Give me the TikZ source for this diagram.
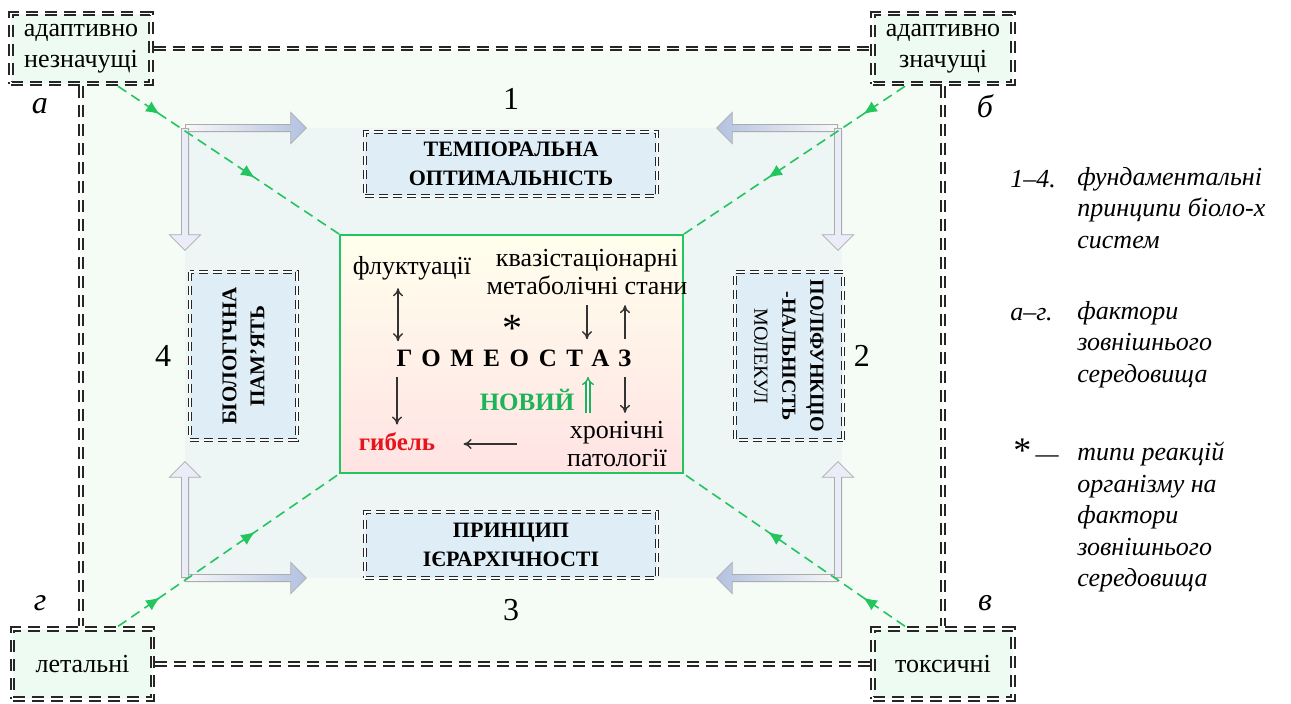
\documentclass[tikz,border=0pt]{standalone}
\usepackage{fontspec}
\setmainfont{Liberation Serif}
\usetikzlibrary{positioning,arrows.meta,shapes.arrows,decorations.markings,backgrounds}
\definecolor{framefill}{HTML}{F5FCF6}
\definecolor{innerfill}{HTML}{EEF5F5}
\definecolor{cornerfill}{HTML}{EEFBF2}
\definecolor{boxfill}{HTML}{DFEEF6}
\definecolor{linkgreen}{HTML}{22C55E}
\definecolor{newgreen}{HTML}{1DB35A}
\definecolor{deathred}{HTML}{E8141C}
\definecolor{headblue}{HTML}{B3C2E2}
\definecolor{headpale}{HTML}{EAECF7}
\tikzset{
    dd-line/.style = {draw=black!85, line width=2.7pt, dash pattern=on 6pt off 3.5pt,
        postaction={draw=white, line width=0.9pt, dash pattern=on 6pt off 3.5pt}},
    corner-box/.style = {dd-line, fill=cornerfill, inner sep=2pt, align=center, minimum width=70pt, minimum height=35pt, font=\fontsize{13}{15.5}\selectfont},
    principle-box/.style = {draw=black!85, line width=2.4pt, dash pattern=on 4.5pt off 2.5pt,
        postaction={draw=white, line width=0.8pt, dash pattern=on 4.5pt off 2.5pt},
        fill=boxfill, align=center, inner sep=1pt, font=\bfseries},
    num-label/.style = {inner sep=1pt, font=\fontsize{16}{18}\selectfont},
    letter-label/.style = {inner sep=1pt, font=\fontsize{16}{18}\selectfont\itshape},
    body-text/.style = {inner sep=1pt, align=center, font=\fontsize{13}{14}\selectfont},
    legend-text/.style = {inner sep=0pt, align=left, font=\fontsize{13}{15.7}\selectfont\itshape},
    green-link/.style = {draw=linkgreen, line width=0.8pt, dash pattern=on 5pt off 3pt, postaction={decorate},
        decoration={markings,
            mark=at position 0.19 with {\arrow{Latex[length=7pt,width=6pt]}},
            mark=at position 0.62 with {\arrow{Latex[length=7pt,width=6pt]}}}},
    block-arrow/.style = {single arrow, draw=gray!65, line width=0.4pt, inner xsep=0pt, inner ysep=1.6pt,
        single arrow head extend=6pt, single arrow head indent=0pt, anchor=tail},
    block-arrow-h/.style = {block-arrow, minimum height=60.5pt, left color=gray!6, right color=headblue},
    block-arrow-hr/.style = {block-arrow, minimum height=60.5pt, left color=headblue, right color=gray!6},
    block-arrow-v/.style = {block-arrow, fill=headpale},
    small-arrow/.style = {-{To[length=4pt,width=5pt]}, line width=0.7pt, black!80},
}

\begin{document}
\begin{tikzpicture}[x=0.5pt, y=-0.5pt]
\useasboundingbox (0,0) rectangle (1291,703);

% factors
\node[corner-box] (adnez) at (81,48.5) {адаптивно\\незначущі};
\node[corner-box] (adzn) at (943,48.5) {адаптивно\\значущі};
\node[corner-box] (letal) at (82.5,664) {летальні};
\node[corner-box] (toks) at (943,664) {токсичні};
\node[letter-label] (la) at (40,106) {а};
\node[letter-label] (lb) at (985,106) {б};
\node[letter-label] (lv) at (985,603) {в};
\node[letter-label] (lg) at (40,603) {г};

\coordinate (cTL) at (185,128);
\coordinate (cTR) at (838,128);
\coordinate (cBL) at (185,578);
\coordinate (cBR) at (838,578);

\begin{scope}[on background layer]
\fill[framefill] (adnez.center) rectangle (toks.center);
\fill[innerfill] (cTL) rectangle ([xshift=2pt]cBR);
\draw[dd-line] (adnez) -- (adzn);
\draw[dd-line] (letal) -- (toks);
\draw[dd-line] (adnez.south) -- (adnez.south |- letal.north);
\draw[dd-line] (adzn.south) -- (adzn.south |- toks.north);
\end{scope}

% principles
\node[block-arrow-h] (arTLh) at (cTL) {};
\node[block-arrow-v, rotate=-90, minimum height=61pt] (arTLv) at (cTL) {};
\node[block-arrow-hr, rotate=180] (arTRh) at (cTR) {};
\node[block-arrow-v, rotate=-90, minimum height=61pt] (arTRv) at (cTR) {};
\node[block-arrow-h] (arBLh) at (cBL) {};
\node[block-arrow-v, rotate=90, minimum height=58pt] (arBLv) at (cBL) {};
\node[block-arrow-hr, rotate=180] (arBRh) at (cBR) {};
\node[block-arrow-v, rotate=90, minimum height=58pt] (arBRv) at (cBR) {};

\node[principle-box, minimum width=146pt, minimum height=32pt, font=\fontsize{11}{14.5}\selectfont\bfseries] (temp) at (511,164) {ТЕМПОРАЛЬНА\\ОПТИМАЛЬНІСТЬ};
\node[principle-box, minimum width=146pt, minimum height=33pt, font=\fontsize{11}{14.5}\selectfont\bfseries] (iyer) at (511,545) {ПРИНЦИП\\ІЄРАРХІЧНОСТІ};
\node[principle-box, rotate=90, minimum width=84pt, minimum height=53.5pt, font=\fontsize{10.5}{14}\selectfont\bfseries] (biol) at (243.5,356) {БІОЛОГІЧНА\\ПАМ’ЯТЬ};
\node[principle-box, rotate=-90, minimum width=84pt, minimum height=54pt, font=\fontsize{10}{14}\selectfont\bfseries] (polif) at (789,356) {ПОЛІФУНКЦІО\\-НАЛЬНІСТЬ\\{\mdseries МОЛЕКУЛ}};
\node[num-label, above=9pt of temp] (n1) {1};
\node[num-label, below=8pt of iyer] (n3) {3};
\node[num-label, left=7pt of biol.north] (n4) {4};
\node[num-label, right=3pt of polif.north] (n2) {2};

% homeostasis
\node[draw=linkgreen, line width=1pt, top color=yellow!7, bottom color=red!11, minimum width=171.5pt, minimum height=119pt] (centr) at (511.5,354) {};
\node[body-text] (fluk) at (412,268) {флуктуації};
\node[body-text] (kvazi) at (587,272) {квазістаціонарні\\метаболічні стани};
\node[inner sep=0pt, font=\fontsize{20}{20}\selectfont] (star) at (512,328) {*};
\node[inner sep=1pt, font=\fontsize{12.5}{14}\selectfont\bfseries\addfontfeature{LetterSpace=38}] (homeo) at (514,358) {ГОМЕОСТАЗ};
\node[inner sep=1pt, text=newgreen, font=\fontsize{12.5}{14}\selectfont\bfseries] (novyi) at (527,400) {НОВИЙ};
\node[inner sep=1pt, text=deathred, font=\fontsize{12.5}{14}\selectfont\bfseries] (gib) at (397,442) {гибель};
\node[body-text] (chron) at (617,444) {хронічні\\патології};

\draw[small-arrow, {To[length=4pt,width=5pt]}-{To[length=4pt,width=5pt]}, shorten <=3pt, shorten >=3pt] ([xshift=-7pt]fluk.south) -- ([xshift=-7pt]fluk.south |- homeo.north);
\draw[small-arrow, shorten <=4pt, shorten >=4pt] (kvazi.south) -- (kvazi.south |- homeo.north);
\draw[small-arrow, shorten <=4pt, shorten >=4pt] ([xshift=19pt]kvazi.south |- homeo.north) -- ([xshift=19pt]kvazi.south);
\draw[small-arrow, shorten <=4pt, shorten >=3pt] (gib.north |- homeo.south) -- (gib.north);
\draw[small-arrow, shorten <=4pt, shorten >=3pt] ([xshift=4pt]chron.north |- homeo.south) -- ([xshift=4pt]chron.north);
\draw[newgreen, line width=0.7pt, double, double distance=1.3pt, -{Implies}, shorten <=3pt, shorten >=4pt] ([xshift=-14.5pt]chron.north) -- ([xshift=-14.5pt]chron.north |- homeo.south);
\draw[small-arrow, shorten <=24pt, shorten >=13pt] (chron.west) -- (chron.west -| gib.east);

\draw[green-link] ([xshift=18.5pt]adnez.south) -- (centr.north west);
\draw[green-link] ([xshift=-19pt]adzn.south) -- (centr.north east);
\draw[green-link] ([xshift=17.8pt]letal.north) -- (centr.south west);
\draw[green-link] ([xshift=-19pt]toks.north) -- (centr.south east);

% legend
\node[legend-text, anchor=base west] (key1) at (1010,187) {1–4.};
\node[legend-text, anchor=north west] (leg1) at (1077,167) {фундаментальні\\принципи біоло-х\\систем};
\node[legend-text, anchor=base west] (key2) at (1010,320) {а–г.};
\node[legend-text, anchor=north west] (leg2) at (1077,301) {фактори\\зовнішнього\\середовища};
\node[legend-text, anchor=base west] (key3) at (1013,462) {{\upshape\fontsize{18}{18}\selectfont *}\,—};
\node[legend-text, anchor=north west] (leg3) at (1077,442) {типи реакцій\\організму на\\фактори\\зовнішнього\\середовища};
\end{tikzpicture}
\end{document}
